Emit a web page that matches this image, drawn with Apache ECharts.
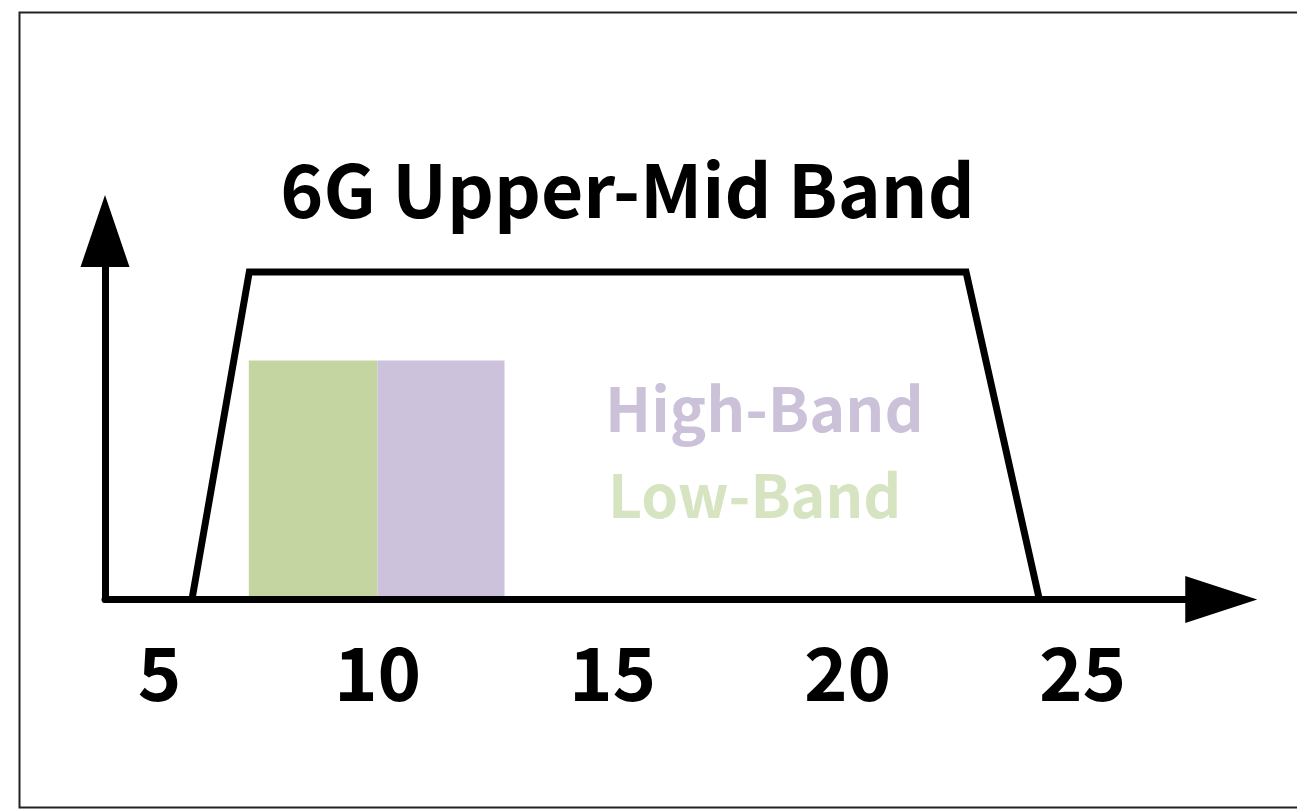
<!DOCTYPE html>
<html><head><meta charset="utf-8">
<script src="https://cdn.jsdelivr.net/npm/echarts@6/dist/echarts.min.js"></script>
<style>html,body{margin:0;padding:0;background:#fff}#c{width:1297px;height:810px}</style>
</head><body><div id="c"></div>
<script>
// ---- data ----
const titleText = '6G Upper-Mid Band';
const tickValues = [5, 10, 15, 20, 25];
const tickLabels = ['5', '10', '15', '20', '25'];
const envelopeX = [6.05, 7.27, 22.52, 24.08];
const envelopeY = [0, 100, 100, 0];
const bandNames = ['Low-Band', 'High-Band'];
const bandStart = [7.26, 10.0];
const bandEnd = [10.0, 12.7];
const bandLevel = [73, 73];
const bandColors = ['#c5d5a1', '#ccc2db'];
const labelColors = ['#d7e4c2', '#cbc2da'];

const FONT = '"Noto Sans CJK KR", "Noto Sans", sans-serif';
const chart = echarts.init(document.getElementById('c'), null, {renderer: 'canvas'});

const envelopeData = envelopeX.map((x, i) => [x, envelopeY[i]]);
const bandData = bandStart.map((s, i) => [s, bandEnd[i], bandLevel[i]]);

chart.setOption({
  animation: false,
  backgroundColor: '#fff',
  title: {
    text: titleText,
    left: 627.5,
    top: 154,
    padding: 0,
    textAlign: 'center',
    textStyle: {fontFamily: FONT, fontWeight: 'bold', fontSize: 73, color: '#000'}
  },
  grid: {left: 105, right: 75.75, top: 231, bottom: 210.5, containLabel: false},
  xAxis: {
    type: 'value', min: 4.2, max: 27.95, z: 5,
    axisLine: {show: true, symbol: ['none', 'triangle'], symbolSize: [47, 72],
      lineStyle: {color: '#000', width: 7, cap: 'round'}},
    axisTick: {show: false},
    splitLine: {show: false},
    axisLabel: {
      customValues: tickValues,
      margin: 36,
      fontFamily: FONT, fontWeight: 'bold', fontSize: 74, color: '#000',
      formatter: (v) => {
        const t = tickLabels[tickValues.indexOf(v)];
        return v === tickValues[0] ? '{f|' + t + '}' : t;
      },
      rich: {f: {fontFamily: FONT, fontWeight: 'bold', fontSize: 74, color: '#000', padding: [0, 0, 0, 34]}}
    }
  },
  yAxis: {
    type: 'value', min: 0, max: 112.5, z: 5,
    axisLine: {show: true, symbol: ['none', 'triangle'], symbolSize: [49, 72],
      lineStyle: {color: '#000', width: 7, cap: 'round'}},
    axisTick: {show: false}, axisLabel: {show: false}, splitLine: {show: false}
  },
  graphic: [
    {type: 'rect', z: -10, silent: true,
      shape: {x: 19.5, y: 12.5, width: 1300, height: 795},
      style: {fill: 'none', stroke: '#222', lineWidth: 2}},
    {type: 'text', x: 605, y: 378.3, silent: true,
      style: {text: bandNames[1], font: 'bold 61px ' + FONT, fill: labelColors[1], verticalAlign: 'top'}},
    {type: 'text', x: 608, y: 466.1, silent: true,
      style: {text: bandNames[0], font: 'bold 59px ' + FONT, fill: labelColors[0], verticalAlign: 'top'}}
  ],
  series: [
    {
      type: 'custom', z: 1, clip: false,
      encode: {x: [0, 1], y: 2},
      data: bandData,
      renderItem: (params, api) => {
        const p0 = api.coord([api.value(0), 0]);
        const p1 = api.coord([api.value(1), api.value(2)]);
        return {type: 'rect',
          shape: {x: p0[0], y: p1[1], width: p1[0] - p0[0], height: p0[1] - p1[1]},
          style: {fill: bandColors[params.dataIndex]}};
      }
    },
    {
      type: 'line', z: 3, data: envelopeData, symbol: 'none', clip: false,
      lineStyle: {color: '#000', width: 7, join: 'miter'}
    }
  ]
});
</script></body></html>
